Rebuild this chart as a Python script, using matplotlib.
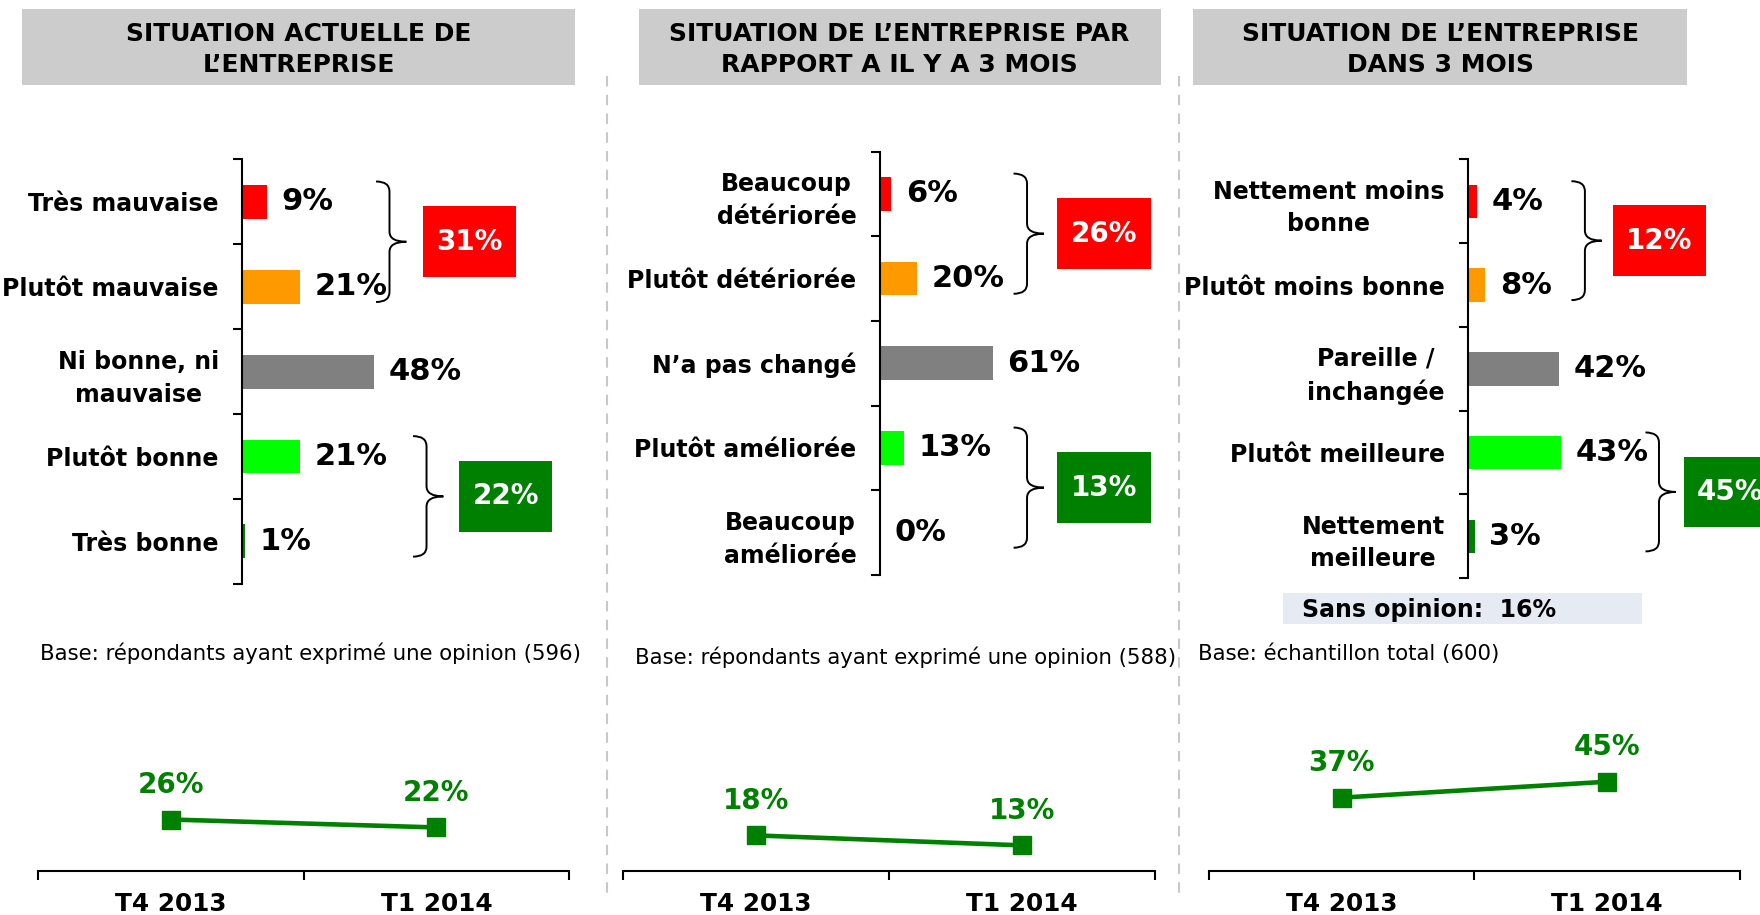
import numpy as np
import matplotlib.pyplot as plt
from matplotlib.patches import Rectangle, PathPatch
from matplotlib.path import Path

# data
titles = ["SITUATION ACTUELLE DE\nL’ENTREPRISE",
          "SITUATION DE L’ENTREPRISE PAR\nRAPPORT A IL Y A 3 MOIS",
          "SITUATION DE L’ENTREPRISE\nDANS 3 MOIS"]
cats1 = ["Très mauvaise", "Plutôt mauvaise", "Ni bonne, ni\nmauvaise", "Plutôt bonne", "Très bonne"]
vals1 = [9, 21, 48, 21, 1]
cats2 = ["Beaucoup\ndétériorée", "Plutôt détériorée", "N’a pas changé", "Plutôt améliorée", "Beaucoup\naméliorée"]
vals2 = [6, 20, 61, 13, 0]
cats3 = ["Nettement moins\nbonne", "Plutôt moins bonne", "Pareille /\ninchangée", "Plutôt meilleure", "Nettement\nmeilleure"]
vals3 = [4, 8, 42, 43, 3]
neg_totals = [31, 26, 12]
pos_totals = [22, 13, 45]
bases = ["Base: répondants ayant exprimé une opinion (596)",
         "Base: répondants ayant exprimé une opinion (588)",
         "Base: échantillon total (600)"]
periods = ["T4 2013", "T1 2014"]
trend1 = [26, 22]
trend2 = [18, 13]
trend3 = [37, 45]
sans_opinion = 16

bar_colors = ["#FF0000", "#FF9900", "#808080", "#00FF00", "#008000"]
red, green = "#FF0000", "#008000"

plt.rcParams['font.family'] = 'DejaVu Sans'

# layout in reference units (1568 x 815 view)
W, H = 1568, 815
fig = plt.figure(figsize=(17.6, 9.15), dpi=100)


def box(x0, y0, x1, y1):
    return [x0 / W, 1 - y1 / H, (x1 - x0) / W, (y1 - y0) / H]


ov = fig.add_axes([0, 0, 1, 1])
ov.set_xlim(0, W)
ov.set_ylim(H, 0)
ov.axis('off')


def to_ov(ax, x, y):
    return ov.transData.inverted().transform(ax.transData.transform((x, y)))


def brace(x, y0, y1, w=12, tip=15, r=9):
    ym = (y0 + y1) / 2
    verts = [(x, y0), (x + w, y0), (x + w, y0 + r),
             (x + w, ym - r),
             (x + w, ym), (x + w + tip, ym),
             (x + w, ym), (x + w, ym + r),
             (x + w, y1 - r),
             (x + w, y1), (x, y1)]
    codes = [Path.MOVETO, Path.CURVE3, Path.CURVE3, Path.LINETO,
             Path.CURVE3, Path.CURVE3, Path.CURVE3, Path.CURVE3,
             Path.LINETO, Path.CURVE3, Path.CURVE3]
    ov.add_patch(PathPatch(Path(verts, codes), fill=False, lw=1.4, color='black'))


panels = [
    dict(cats=cats1, vals=vals1, trend=trend1, title_box=(20, 8, 512, 76),
         ax_x=216, ax_top=142, ax_bot=520, scale=2.44,
         brace_x=(335, 368), box_x=(377, 409), base_xy=(36, 582), line_x=(34, 507)),
    dict(cats=cats2, vals=vals2, trend=trend2, title_box=(569, 8, 1034, 76),
         ax_x=784, ax_top=135, ax_bot=512, scale=1.65,
         brace_x=(903, 903), box_x=(942, 942), base_xy=(566, 585), line_x=(555, 1029)),
    dict(cats=cats3, vals=vals3, trend=trend3, title_box=(1063, 8, 1503, 76),
         ax_x=1308, ax_top=142, ax_bot=515, scale=1.92,
         brace_x=(1400, 1466), box_x=(1437, 1500), base_xy=(1067, 582), line_x=(1077, 1550)),
]

# dashed separators
for sx in [541, 1050]:
    ov.plot([sx, sx], [68, 800], color='#C8C8C8', lw=1.5, ls=(0, (5, 4)))

for k, p in enumerate(panels):
    tx0, ty0, tx1, ty1 = p['title_box']
    ov.add_patch(Rectangle((tx0, ty0), tx1 - tx0, ty1 - ty0, color='#CCCCCC', lw=0))
    ov.text((tx0 + tx1) / 2, (ty0 + ty1) / 2 + 2, titles[k], ha='center', va='center',
            fontsize=18, fontweight='bold', linespacing=1.35)

    ax = fig.add_axes(box(p['ax_x'], p['ax_top'], p['ax_x'] + p['scale'] * 100, p['ax_bot']))
    ax.patch.set_alpha(0)
    y = np.arange(len(p['cats']))
    ax.barh(y, p['vals'], height=0.4, color=bar_colors)
    ax.set_xlim(0, 100)
    ax.set_ylim(4.5, -0.5)
    for s in ['top', 'right', 'bottom']:
        ax.spines[s].set_visible(False)
    ax.spines['left'].set_linewidth(1.5)
    ax.set_xticks([])
    ax.set_yticks(np.arange(-0.5, 5, 1))
    ax.set_yticklabels([])
    ax.set_yticks(y, minor=True)
    ax.set_yticklabels(p['cats'], minor=True, fontsize=17, fontweight='bold',
                       multialignment='center', linespacing=1.45)
    ax.tick_params(axis='y', which='major', length=6.5, width=1.5)
    ax.tick_params(axis='y', which='minor', length=0, pad=17)
    for i, v in enumerate(p['vals']):
        ax.annotate(f"{v}%", (v, i), xytext=(10.5, 0), textcoords='offset points',
                    va='center', ha='left', fontsize=22, fontweight='bold')

    # group braces and totals
    groups = [(0, 1, neg_totals[k], red), (3, 4, pos_totals[k], green)]
    for g, (i0, i1, tot, col) in enumerate(groups):
        yt = to_ov(ax, 0, i0 - 0.24)[1]
        yb = to_ov(ax, 0, i1 + 0.18)[1]
        bx = p['brace_x'][g]
        brace(bx, yt, yb)
        ym = (yt + yb) / 2
        x0 = p['box_x'][g]
        ov.add_patch(Rectangle((x0, ym - 31.5), 83, 63, color=col, lw=0))
        ov.text(x0 + 41.5, ym, f"{tot}%", ha='center', va='center', color='white',
                fontsize=20, fontweight='bold')

    ov.text(p['base_xy'][0], p['base_xy'][1], bases[k], ha='left', va='center', fontsize=15.3)

    # trend line
    lx0, lx1 = p['line_x']
    lx = fig.add_axes(box(lx0, 652, lx1, 776))
    lx.patch.set_alpha(0)
    lx.plot([0, 1], p['trend'], color=green, lw=3.3, marker='s', ms=13, clip_on=False)
    lx.set_xlim(-0.5, 1.5)
    lx.set_ylim(0, 70)
    for s in ['top', 'right', 'left']:
        lx.spines[s].set_visible(False)
    lx.spines['bottom'].set_linewidth(1.5)
    lx.set_yticks([])
    lx.set_xticks([-0.5, 0.5, 1.5])
    lx.set_xticklabels([])
    lx.set_xticks([0, 1], minor=True)
    lx.set_xticklabels(periods, minor=True, fontsize=17.8, fontweight='bold')
    lx.tick_params(axis='x', which='major', length=6.5, width=1.5)
    lx.tick_params(axis='x', which='minor', length=0, pad=15)
    for i, v in enumerate(p['trend']):
        lx.annotate(f"{v}%", (i, v), xytext=(0, 25), textcoords='offset points',
                    ha='center', va='center', color=green, fontsize=20, fontweight='bold')

# sans opinion box
ov.add_patch(Rectangle((1143, 528), 320, 28, color='#E6EBF3', lw=0))
ov.text(1160, 543, f"Sans opinion:  {sans_opinion}%", ha='left', va='center',
        fontsize=17, fontweight='bold')

fig.savefig('out.png', dpi=100)
